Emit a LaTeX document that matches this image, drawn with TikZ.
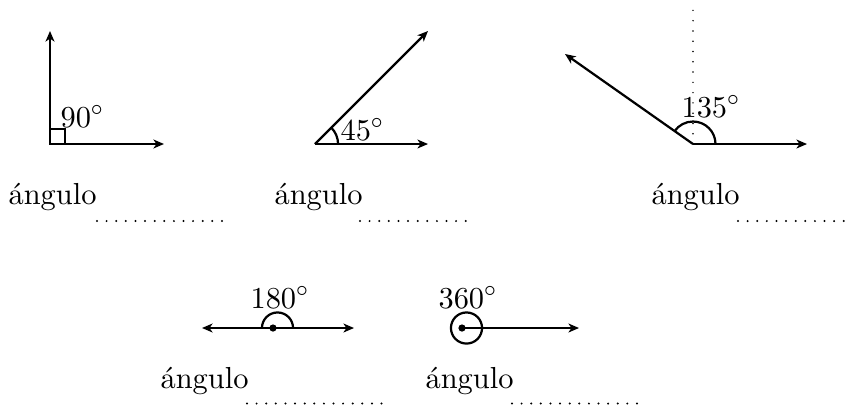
\documentclass[tikz,border=0pt]{standalone}
\usetikzlibrary{arrows.meta}
\begin{document}
\begin{tikzpicture}[x=0.36pt,y=-0.36pt,
  ray/.style={line width=0.8pt,-{Stealth[length=3.8pt,width=3.2pt,inset=1.1pt]}},
  anglemark/.style={line width=0.8pt},
  lbl/.style={anchor=base west,inner sep=0pt,font=\fontsize{10.95}{13.6}\selectfont},
  blank/.style={line width=0.8pt,line cap=round,dash pattern=on 0pt off 3.46pt},
  guide/.style={line width=0.6pt,line cap=round,dash pattern=on 0pt off 3.7pt}]
\useasboundingbox (0,0) rectangle (847,405);
% --- 90 degrees
\coordinate (v1) at (50,144);
\coordinate (a1) at (50,31);
\coordinate (b1) at (164,144);
\draw[ray] (v1) -- (a1);
\draw[ray] (v1) -- (b1);
\draw[anglemark] (v1) rectangle ++(15,-15);
\node[lbl] (t1) at (60,127) {$90^\circ$};
\node[lbl] (w1) at (8,204) {ángulo};
\coordinate (d1s) at (97,221);
\coordinate (d1e) at (223,221);
\draw[blank] (d1s) -- (d1e);
% --- 45 degrees
\coordinate (v2) at (315,144);
\coordinate (a2) at (428,31);
\coordinate (b2) at (428,144);
\draw[ray] (v2) -- (a2);
\draw[ray] (v2) -- (b2);
\draw[anglemark] (v2) ++(8.3pt,0) arc[start angle=0,end angle=45,radius=8.3pt];
\node[lbl] (t2) at (340,140) {$45^\circ$};
\node[lbl] (w2) at (274,204) {ángulo};
\coordinate (d2s) at (360,221);
\coordinate (d2e) at (473,221);
\draw[blank] (d2s) -- (d2e);
% --- 135 degrees
\coordinate (v3) at (693,144);
\coordinate (a3) at (565,54);
\coordinate (b3) at (807,144);
\coordinate (g3) at (693,6);
\draw[guide] (v3) -- (g3);
\draw[ray] (v3) -- (a3);
\draw[ray] (v3) -- (b3);
\draw[anglemark] (v3) ++(8.1pt,0) arc[start angle=0,end angle=145,radius=8.1pt];
\node[lbl] (t3) at (681,117) {$135^\circ$};
\node[lbl] (w3) at (651,204) {ángulo};
\coordinate (d3s) at (738,221);
\coordinate (d3e) at (845,221);
\draw[blank] (d3s) -- (d3e);
% --- 180 degrees
\coordinate (v4) at (273,328);
\coordinate (c4) at (277.5,328);
\coordinate (a4) at (202,328);
\coordinate (b4) at (354,328);
\draw[ray] (v4) -- (a4);
\draw[ray] (v4) -- (b4);
\draw[anglemark] (c4) ++(5.6pt,0) arc[start angle=0,end angle=180,radius=5.6pt];
\fill (v4) circle[radius=1.3pt];
\node[lbl] (t4) at (250,308) {$180^\circ$};
\node[lbl] (w4) at (160,388) {ángulo};
\coordinate (d4s) at (247,403.5);
\coordinate (d4e) at (391,403.5);
\draw[blank] (d4s) -- (d4e);
% --- 360 degrees
\coordinate (v5) at (462,328);
\coordinate (c5) at (466.5,328);
\coordinate (b5) at (579,328);
\draw[ray] (v5) -- (b5);
\draw[anglemark] (c5) circle[radius=5.6pt];
\fill (v5) circle[radius=1.3pt];
\node[lbl] (t5) at (438,308) {$360^\circ$};
\node[lbl] (w5) at (425,388) {ángulo};
\coordinate (d5s) at (512,403.5);
\coordinate (d5e) at (646,403.5);
\draw[blank] (d5s) -- (d5e);
\end{tikzpicture}
\end{document}
